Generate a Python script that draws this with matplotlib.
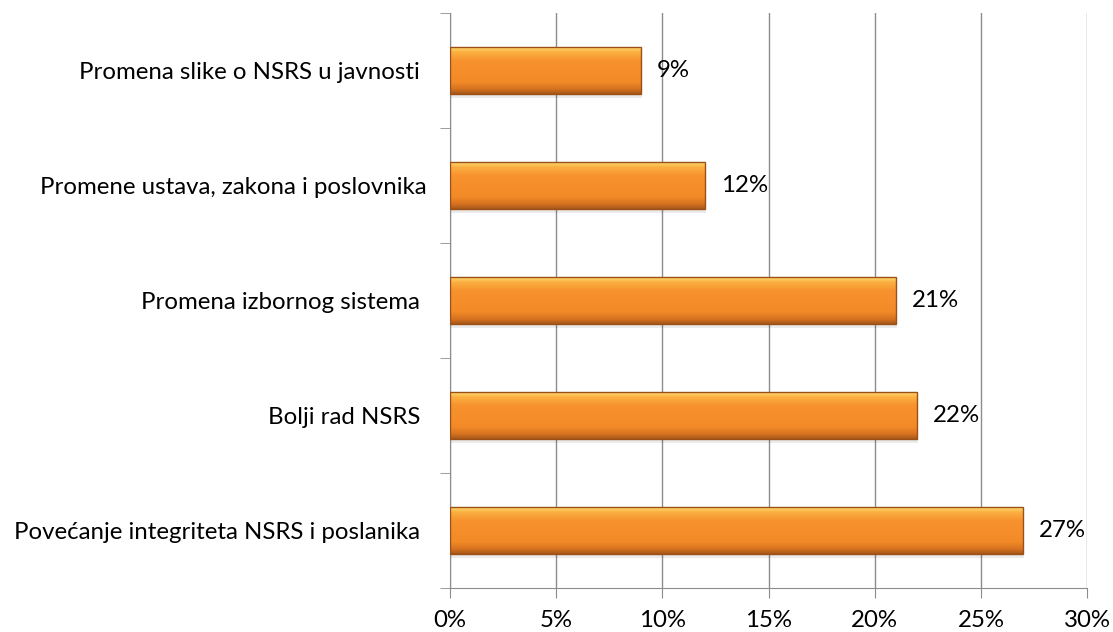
import numpy as np
import matplotlib.pyplot as plt
from matplotlib.colors import LinearSegmentedColormap
from matplotlib.patches import Rectangle
from matplotlib.ticker import MultipleLocator, FuncFormatter

plt.rcParams['font.family'] = ['Lato', 'DejaVu Sans']

categories = [
    "Povećanje integriteta NSRS i poslanika ",
    "Bolji rad NSRS ",
    "Promena izbornog sistema ",
    "Promene ustava, zakona i poslovnika",
    "Promena slike o NSRS u javnosti ",
]
values = [27, 22, 21, 12, 9]
value_labels = ["27%", "22%", "21%", "12%", "9%"]

fig = plt.figure(figsize=(11.13, 6.32), dpi=100)
ax = fig.add_axes([0.4043, 0.0696, 0.5724, 0.9098])

ypos = np.arange(len(categories))
bar_h = 0.41

# vertical gradient for the bevelled orange bars
cmap = LinearSegmentedColormap.from_list(
    "bevel", [(0.0, "#FFE27A"), (0.12, "#FBB040"), (0.3, "#F7922E"),
              (0.75, "#F38A28"), (0.9, "#D77320"), (1.0, "#A8581A")])
grad = np.linspace(0, 1, 64).reshape(-1, 1)

for y, v, lab in zip(ypos, values, value_labels):
    # soft shadow
    ax.add_patch(Rectangle((0.05, y - bar_h / 2 - 0.03), v, bar_h,
                           facecolor="#000000", alpha=0.08, lw=0, zorder=2))
    im = ax.imshow(grad, cmap=cmap, aspect="auto",
                   extent=(0, v, y - bar_h / 2, y + bar_h / 2),
                   origin="upper", zorder=3)
    rect = Rectangle((0, y - bar_h / 2), v, bar_h, facecolor="none",
                     edgecolor="#9C5015", lw=1.0, zorder=4)
    ax.add_patch(rect)
    im.set_clip_path(rect)
    ax.text(v + 0.75, y, lab, va="center", ha="left", fontsize=17.3, zorder=5)

ax.set_xlim(0, 30)
ax.set_ylim(-0.5, len(categories) - 0.5)
ax.xaxis.set_major_locator(MultipleLocator(5))
ax.xaxis.set_major_formatter(FuncFormatter(lambda x, p: f"{x:.0f}%"))
ax.grid(axis="x", color="#8C8C8C", lw=1.0, zorder=0)
ax.set_axisbelow(True)

ax.set_yticks(ypos)
ax.set_yticklabels(categories, fontsize=17.3)
ax.set_yticks(np.arange(-0.5, len(categories)), minor=True)
ax.tick_params(axis="y", which="major", length=0, pad=17)
ax.tick_params(axis="y", which="minor", length=7, color="#8C8C8C")
ax.tick_params(axis="x", length=7, color="#8C8C8C", labelsize=17.3, pad=9)

for s in ["top", "right"]:
    ax.spines[s].set_visible(False)
for s in ["left", "bottom"]:
    ax.spines[s].set_color("#8C8C8C")

fig.savefig("out.png", dpi=100)
